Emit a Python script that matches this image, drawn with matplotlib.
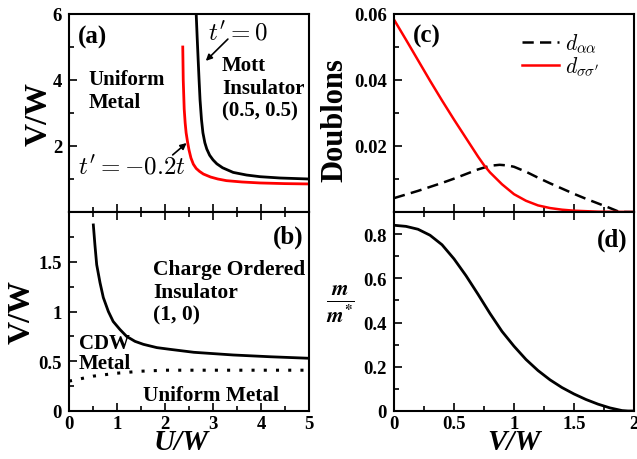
import matplotlib
matplotlib.use("Agg")
import matplotlib.pyplot as plt
from matplotlib.ticker import FixedLocator, FixedFormatter

plt.rcParams['font.family'] = ['Liberation Serif', 'DejaVu Serif']
plt.rcParams['font.weight'] = 'bold'
plt.rcParams['mathtext.fontset'] = 'cm'
plt.rcParams['axes.linewidth'] = 1.5

# ---------------- data ----------------
# (a) phase boundaries V/W vs U/W
a_t0_U = [2.65, 2.67, 2.69, 2.71, 2.73, 2.76, 2.79, 2.83, 2.87, 2.93, 3.00, 3.08, 3.20, 3.42, 3.70, 3.98, 4.40, 5.00]
a_t0_V = [6.00, 5.30, 4.64, 4.00, 3.40, 2.80, 2.40, 2.10, 1.91, 1.72, 1.58, 1.46, 1.34, 1.20, 1.12, 1.07, 1.03, 1.00]
a_t2_U = [2.37, 2.38, 2.40, 2.42, 2.44, 2.47, 2.50, 2.54, 2.59, 2.65, 2.72, 2.80, 2.95, 3.10, 3.28, 3.60, 3.98, 4.50, 5.00]
a_t2_V = [5.00, 4.00, 3.12, 2.70, 2.40, 2.12, 1.88, 1.64, 1.45, 1.32, 1.23, 1.15, 1.06, 1.00, 0.95, 0.91, 0.88, 0.86, 0.85]

# (b) charge order boundary and CDW-metal boundary
b_co_U = [0.507, 0.54, 0.577, 0.646, 0.715, 0.82, 0.92, 1.06, 1.20, 1.375, 1.55, 1.83, 2.10, 2.60, 3.42, 4.20, 5.00]
b_co_V = [1.87, 1.67, 1.47, 1.29, 1.14, 1.00, 0.90, 0.82, 0.75, 0.70, 0.67, 0.637, 0.62, 0.59, 0.563, 0.545, 0.53]
b_cdw_U = [0.0, 0.5, 1.0, 1.5, 2.0, 3.0, 4.0, 5.0]
b_cdw_V = [0.30, 0.35, 0.38, 0.40, 0.41, 0.41, 0.41, 0.41]

# (c) doublons vs V/W
c_aa_V = [0.0, 0.1, 0.2, 0.3, 0.4, 0.5, 0.6, 0.7, 0.8, 0.88, 0.95, 1.0, 1.1, 1.2, 1.3, 1.4, 1.5, 1.6, 1.7, 1.8, 1.88, 2.0]
c_aa_d = [0.0042, 0.0053, 0.0064, 0.0076, 0.0088, 0.0101, 0.0115, 0.0129, 0.0140, 0.0143, 0.0141, 0.0137,
          0.0122, 0.0104, 0.0087, 0.0071, 0.0055, 0.0040, 0.0026, 0.0012, 0.0, 0.0]
c_ss_V = [0.0, 0.1, 0.2, 0.3, 0.4, 0.5, 0.6, 0.7, 0.75, 0.8, 0.9, 1.0, 1.1, 1.2, 1.3, 1.4, 1.5, 1.7, 2.0]
c_ss_d = [0.0583, 0.0522, 0.0460, 0.0398, 0.0338, 0.0280, 0.0224, 0.0168, 0.0142, 0.0120, 0.0084, 0.0054,
          0.0034, 0.0020, 0.0012, 0.0007, 0.0004, 0.0001, 0.0]

# (d) m/m* vs V/W
d_V = [0.0, 0.1, 0.2, 0.3, 0.4, 0.5, 0.6, 0.7, 0.8, 0.9, 1.0, 1.1, 1.2, 1.3, 1.4, 1.5, 1.6, 1.7, 1.8, 1.9, 1.95, 2.0]
d_m = [0.840, 0.835, 0.822, 0.795, 0.752, 0.688, 0.612, 0.528, 0.441, 0.360, 0.293, 0.233, 0.183, 0.141,
       0.106, 0.077, 0.052, 0.031, 0.014, 0.002, 0.0, 0.0]

ab_xticks = [0, 1, 2, 3, 4, 5]
ab_xlabels = ['0', '1', '2', '3', '4', '5']
b_yticks = [0, 0.5, 1, 1.5]
b_ylabels = ['0', '0.5', '1', '1.5']
a_yticks = [2, 4, 6]
a_ylabels = ['2', '4', '6']
c_yticks = [0.02, 0.04, 0.06]
c_ylabels = ['0.02', '0.04', '0.06']
cd_xticks = [0, 0.5, 1, 1.5, 2]
cd_xlabels = ['0', '0.5', '1', '1.5', '2']
d_yticks = [0, 0.2, 0.4, 0.6, 0.8]
d_ylabels = ['0', '0.2', '0.4', '0.6', '0.8']

# ---------------- figure ----------------
fig = plt.figure(figsize=(6.37, 4.60), dpi=100)
W, H = 637.0, 460.0
def rect(l, r, t, b):
    return [l / W, 1 - b / H, (r - l) / W, (b - t) / H]

axa = fig.add_axes(rect(69, 309, 15, 213))
axb = fig.add_axes(rect(69, 309, 213, 412))
axc = fig.add_axes(rect(394, 634, 15, 213))
axd = fig.add_axes(rect(394, 634, 213, 412))

TL = 13.5
for ax in (axa, axb, axc, axd):
    ax.tick_params(which='both', direction='in', right=False, labelsize=TL, width=1.2)
    ax.tick_params(which='major', length=6, pad=5)
    ax.tick_params(which='minor', length=3.5)

axa.tick_params(which='both', top=False)
axc.tick_params(which='both', top=False)
axb.tick_params(which='both', top=True)
axd.tick_params(which='both', top=True)

arrow_kw = dict(arrowstyle='-|>', color='black', lw=1.2, mutation_scale=9,
                shrinkA=0, shrinkB=0)

# (a)
axa.plot(a_t0_U, a_t0_V, color='black', lw=2)
axa.plot(a_t2_U, a_t2_V, color='red', lw=2)
axa.set_xlim(0, 5); axa.set_ylim(0, 6)
axa.xaxis.set_major_locator(FixedLocator(ab_xticks))
axa.xaxis.set_minor_locator(FixedLocator([0.5, 1.5, 2.5, 3.5, 4.5]))
axa.set_xticklabels([])
axa.yaxis.set_major_locator(FixedLocator(a_yticks))
axa.yaxis.set_major_formatter(FixedFormatter(a_ylabels))
axa.yaxis.set_minor_locator(FixedLocator([1, 3, 5]))
axa.set_ylabel('V/W', fontsize=23, fontweight='bold')
axa.yaxis.set_label_coords(-0.065, 0.5)
axa.text(0.19, 5.32, '(a)', fontsize=18, fontweight='bold', ha='left', va='center')
axa.text(0.40, 4.32, 'Uniform\nMetal', fontsize=15, fontweight='bold', ha='left', va='top', linespacing=1.2)
axa.text(3.19, 4.76, 'Mott\nInsulator\n(0.5, 0.5)', fontsize=15, fontweight='bold', ha='left', va='top', linespacing=1.2)
axa.text(2.90, 5.45, r"$t' = 0$", fontsize=18, fontweight='normal', ha='left', va='center')
axa.text(0.19, 1.38, r"$t' = -0.2t$", fontsize=18, fontweight='normal', ha='left', va='center')
axa.annotate('', xy=(2.85, 4.58), xytext=(3.31, 5.24), arrowprops=arrow_kw)
axa.annotate('', xy=(2.45, 2.09), xytext=(2.16, 1.73), arrowprops=arrow_kw)

# (b)
axb.plot(b_co_U, b_co_V, color='black', lw=2)
axb.plot(b_cdw_U, b_cdw_V, color='black', lw=2.2, linestyle=(0, (1, 3.0)))
axb.set_xlim(0, 5); axb.set_ylim(0, 2.0)
axb.xaxis.set_major_locator(FixedLocator(ab_xticks))
axb.xaxis.set_major_formatter(FixedFormatter(ab_xlabels))
axb.xaxis.set_minor_locator(FixedLocator([0.5, 1.5, 2.5, 3.5, 4.5]))
axb.yaxis.set_major_locator(FixedLocator(b_yticks))
axb.yaxis.set_major_formatter(FixedFormatter(b_ylabels))
axb.yaxis.set_minor_locator(FixedLocator([0.25, 0.75, 1.25, 1.75]))
axb.tick_params(axis='x', pad=3)
axb.set_ylabel('V/W', fontsize=23, fontweight='bold')
axb.yaxis.set_label_coords(-0.135, 0.5)
axb.set_xlabel('U/W', fontsize=21, fontweight='bold', fontstyle='italic')
axb.xaxis.set_label_coords(0.467, -0.085)
axb.text(4.875, 1.76, '(b)', fontsize=18, fontweight='bold', ha='right', va='center')
axb.text(1.75, 1.53, 'Charge Ordered\nInsulator\n(1, 0)', fontsize=15.5, fontweight='bold', ha='left', va='top', linespacing=1.2)
axb.text(0.21, 0.78, 'CDW\nMetal', fontsize=15, fontweight='bold', ha='left', va='top', linespacing=1.0)
axb.text(1.54, 0.16, 'Uniform Metal', fontsize=15.3, fontweight='bold', ha='left', va='center')

# (c)
axc.plot(c_aa_V, c_aa_d, color='black', lw=1.8, linestyle=(0, (4.5, 2.5)), label=r'$d_{\alpha\alpha}$')
axc.plot(c_ss_V, c_ss_d, color='red', lw=1.8, label=r"$d_{\sigma\sigma'}$")
axc.set_xlim(0, 2); axc.set_ylim(0, 0.06)
axc.xaxis.set_major_locator(FixedLocator(cd_xticks))
axc.xaxis.set_minor_locator(FixedLocator([0.25, 0.75, 1.25, 1.75]))
axc.set_xticklabels([])
axc.yaxis.set_major_locator(FixedLocator(c_yticks))
axc.yaxis.set_major_formatter(FixedFormatter(c_ylabels))
axc.yaxis.set_minor_locator(FixedLocator([0.01, 0.03, 0.05]))
axc.set_ylabel('Doublons', fontsize=22, fontweight='bold')
axc.yaxis.set_label_coords(-0.185, 0.47)
axc.text(0.16, 0.0536, '(c)', fontsize=18, fontweight='bold', ha='left', va='center')
leg = axc.legend(loc='upper right', frameon=False, fontsize=15.5, handlelength=1.7,
                 handletextpad=0.3, labelspacing=0.0, borderaxespad=0.3,
                 bbox_to_anchor=(0.92, 0.985))

# (d)
axd.plot(d_V, d_m, color='black', lw=2)
axd.set_xlim(0, 2); axd.set_ylim(0, 0.9)
axd.xaxis.set_major_locator(FixedLocator(cd_xticks))
axd.xaxis.set_major_formatter(FixedFormatter(cd_xlabels))
axd.xaxis.set_minor_locator(FixedLocator([0.25, 0.75, 1.25, 1.75]))
axd.yaxis.set_major_locator(FixedLocator(d_yticks))
axd.yaxis.set_major_formatter(FixedFormatter(d_ylabels))
axd.yaxis.set_minor_locator(FixedLocator([0.1, 0.3, 0.5, 0.7]))
axd.tick_params(axis='x', pad=3)
axd.set_xlabel('V/W', fontsize=21, fontweight='bold', fontstyle='italic')
axd.xaxis.set_label_coords(0.5, -0.085)
axd.text(-0.225, 0.54, r'$\boldsymbol{\frac{m}{m^{*}}}$', fontsize=22,
         transform=axd.transAxes, ha='center', va='center', math_fontfamily='stix')
axd.text(1.95, 0.777, '(d)', fontsize=18, fontweight='bold', ha='right', va='center')

for ax in (axa, axb, axc, axd):
    for lab in ax.get_xticklabels() + ax.get_yticklabels():
        lab.set_fontweight('bold')

fig.savefig('out.png', dpi=100)
